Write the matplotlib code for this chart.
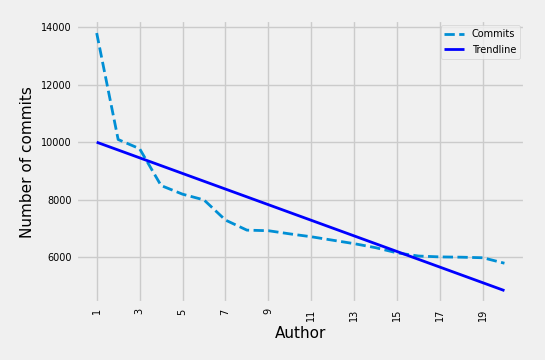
import numpy as np
import matplotlib
matplotlib.use("Agg")
import matplotlib.pyplot as plt

# commits per author (authors ranked 1..20)
authors = list(range(1, 21))
commits = [13800, 10100, 9780, 8500, 8200, 8000, 7300, 6950, 6930, 6820,
           6720, 6600, 6480, 6340, 6160, 6050, 6020, 6010, 5990, 5800]

plt.style.use("fivethirtyeight")

fig = plt.figure(figsize=(5.45, 3.6), dpi=100)
ax = fig.add_axes([0.14, 0.157, 0.823, 0.787])

# linear trend through the commit counts
coef = np.polyfit(authors, commits, 1)
trend = np.polyval(coef, authors)

ax.plot(authors, commits, "--", color="#008fd5", linewidth=2, label="Commits")
ax.plot(authors, trend, "-", color="blue", linewidth=2, label="Trendline")

ax.set_xticks(authors[::2])
ax.tick_params(axis="x", labelrotation=90, labelsize=7)
ax.tick_params(axis="y", labelsize=7)
ax.set_yticks([6000, 8000, 10000, 12000, 14000])

ax.set_xlabel("Author", fontsize=11)
ax.set_ylabel("Number of commits", fontsize=11)

ax.legend(loc="upper right", fontsize=7, labelspacing=0.6)

fig.savefig("out.png", dpi=100, facecolor=fig.get_facecolor())
